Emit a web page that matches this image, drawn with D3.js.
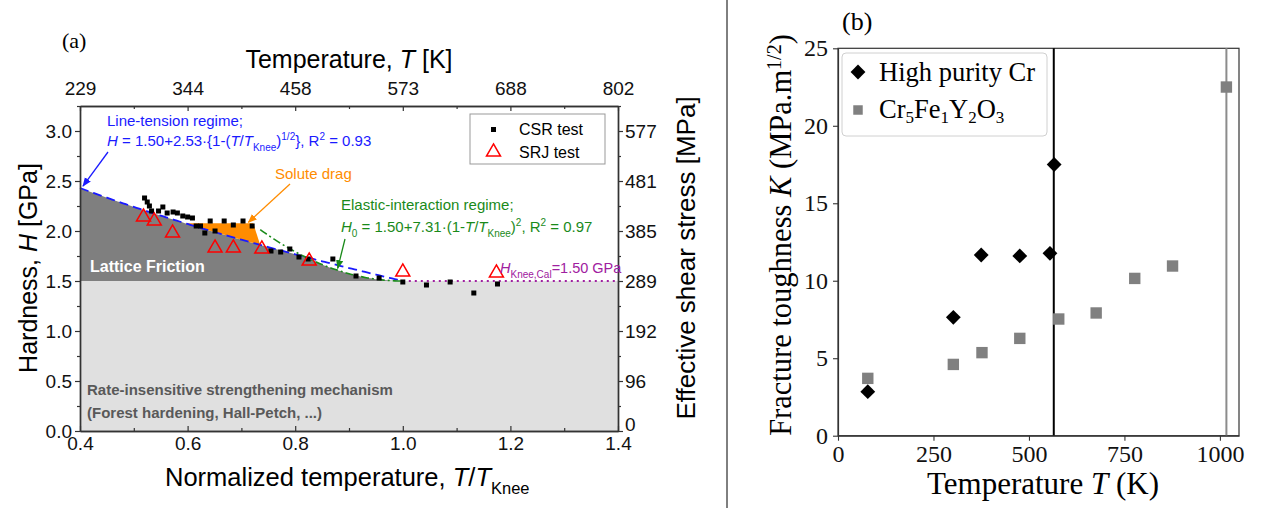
<!DOCTYPE html>
<html>
<head>
<meta charset="utf-8">
<script src="https://cdn.jsdelivr.net/npm/d3@7"></script>
<style>
body { margin: 0; background: #fff; }
svg { display: block; }
.sans { font-family: "Liberation Sans", Arial, sans-serif; }
.serif { font-family: "Liberation Serif", "Times New Roman", serif; }
</style>
</head>
<body>
<svg id="chart" width="1271" height="508"></svg>
<script>
// ---- panel (a) data ----
var normTicks = [0.4, 0.6, 0.8, 1.0, 1.2, 1.4];
var tempLabels = [229, 344, 458, 573, 688, 802];
var hardTicks = [0, 0.5, 1.0, 1.5, 2.0, 2.5, 3.0];
var shearLabels = [0, 96, 192, 289, 385, 481, 577];

var csrX = [0.520, 0.525, 0.529, 0.533, 0.546, 0.554, 0.562, 0.573, 0.581, 0.591, 0.600, 0.609, 0.616, 0.624, 0.632, 0.642, 0.651, 0.668, 0.685, 0.703, 0.720, 0.755, 0.773, 0.790, 0.807, 0.824, 0.870, 0.913, 0.956, 1.000, 1.044, 1.088, 1.132, 1.176];
var csrH = [2.33, 2.29, 2.25, 2.20, 2.20, 2.24, 2.18, 2.19, 2.18, 2.15, 2.14, 2.13, 2.05, 2.05, 1.98, 2.10, 2.00, 2.10, 2.06, 2.10, 2.05, 1.80, 1.79, 1.82, 1.74, 1.72, 1.72, 1.55, 1.53, 1.49, 1.46, 1.49, 1.38, 1.47];
var srjX = [0.518, 0.538, 0.572, 0.651, 0.685, 0.738, 0.826, 1.000, 1.174];
var srjH = [2.15, 2.11, 1.99, 1.84, 1.84, 1.83, 1.71, 1.60, 1.59];

// fit coefficients printed on the chart
var hKnee = 1.50, lineTensionA = 2.53, elasticB = 7.31;
var soluteDragH = 2.077, soluteDragX = [0.596, 0.722, 0.735];

// ---- panel (b) data ----
var tempTicksB = [0, 250, 500, 750, 1000];
var kTicks = [0, 5, 10, 15, 20, 25];
var crT = [78, 302, 375, 476, 555, 566];
var crK = [2.84, 7.64, 11.66, 11.60, 11.77, 17.5];
var cfoT = [78, 302, 377, 476, 578, 676, 777, 876, 1017];
var cfoK = [3.70, 4.60, 5.36, 6.28, 7.53, 7.92, 10.15, 10.95, 22.5];
var crLineT = 565, cfoLineT = 1017;

var svg = d3.select("#chart");

var lineTension = function(t) { return hKnee + lineTensionA * (1 - Math.sqrt(t)); };
var elastic = function(t) { return hKnee + elasticB * (1 - t) * (1 - t); };

// ================= panel (a) =================
var x = d3.scaleLinear().domain([0.4, 1.4]).range([80, 618]);
var y = d3.scaleLinear().domain([0, 3.25]).range([431, 106]);

var gA = svg.append("g").attr("class", "sans");

// light grey region
gA.append("rect")
	.attr("x", x(0.4)).attr("y", y(hKnee))
	.attr("width", x(1.4) - x(0.4)).attr("height", y(0) - y(hKnee))
	.style("fill", "#e0e0e0");

// dark grey lattice friction region
var tGrid = d3.range(0.4, 1.0001, 0.005);
var area = d3.area()
	.x(function(d) { return x(d); })
	.y0(y(hKnee))
	.y1(function(d) { return y(Math.min(lineTension(d), elastic(d))); });
gA.append("path").datum(tGrid).attr("d", area).attr("fill", "#7f7f7f");

// solute drag polygon
var sdPts = [[soluteDragX[0], lineTension(soluteDragX[0])], [soluteDragX[0], soluteDragH], [soluteDragX[1], soluteDragH], [soluteDragX[2], lineTension(soluteDragX[2])]];
var back = d3.range(soluteDragX[2], soluteDragX[0], -0.005).map(function(t) { return [t, lineTension(t)]; });
gA.append("path")
	.attr("d", d3.line().x(function(d) { return x(d[0]); }).y(function(d) { return y(d[1]); })(sdPts.concat(back)) + "Z")
	.attr("fill", "#ff8c00");

// fit lines
gA.append("path").datum(d3.range(0.4, 1.0001, 0.005))
	.attr("d", d3.line().x(function(d) { return x(d); }).y(function(d) { return y(lineTension(d)); }))
	.attr("fill", "none").style("stroke", "#1a1aff").style("stroke-width", 1.8).style("stroke-dasharray", "9,5");
gA.append("path").datum(d3.range(0.735, 1.0001, 0.005))
	.attr("d", d3.line().x(function(d) { return x(d); }).y(function(d) { return y(elastic(d)); }))
	.attr("fill", "none").style("stroke", "#1a8a1a").style("stroke-width", 1.6).style("stroke-dasharray", "8,3,2,3");
gA.append("line")
	.attr("x1", x(1.0)).attr("x2", x(1.4)).attr("y1", y(hKnee)).attr("y2", y(hKnee))
	.style("stroke", "#a020a0").style("stroke-width", 1.8).style("stroke-dasharray", "2,4");

// CSR squares
gA.selectAll(".csr").data(csrX).enter().append("rect")
	.attr("x", function(d) { return x(d) - 2.5; })
	.attr("y", function(d, i) { return y(csrH[i]) - 2.5; })
	.attr("width", 5).attr("height", 5).attr("fill", "#000");

// SRJ triangles
var tri = d3.symbol().type(d3.symbolTriangle).size(85);
gA.selectAll(".srj").data(srjX).enter().append("path")
	.attr("d", tri)
	.attr("transform", function(d, i) { return "translate(" + x(d) + "," + (y(srjH[i]) + 1) + ")"; })
	.attr("fill", "none").style("stroke", "#ff0000").style("stroke-width", 1.5);

// axes
var fmt1 = d3.format(".1f");
var minorX = [0.5, 0.7, 0.9, 1.1, 1.3];
var minorY = [0.25, 0.75, 1.25, 1.75, 2.25, 2.75, 3.25];
var axB = gA.append("g").attr("transform", "translate(0," + y(0) + ")")
	.call(d3.axisBottom(x).tickValues(normTicks).tickFormat(fmt1).tickSize(-5).tickSizeOuter(0).tickPadding(6));
var axBm = gA.append("g").attr("transform", "translate(0," + y(0) + ")")
	.call(d3.axisBottom(x).tickValues(minorX).tickFormat("").tickSize(-3).tickSizeOuter(0));
var axT = gA.append("g").attr("transform", "translate(0," + y(3.25) + ")")
	.call(d3.axisTop(x).tickValues(normTicks).tickFormat(function(d, i) { return tempLabels[i]; }).tickSize(-5).tickSizeOuter(0).tickPadding(11));
var axTm = gA.append("g").attr("transform", "translate(0," + y(3.25) + ")")
	.call(d3.axisTop(x).tickValues(minorX).tickFormat("").tickSize(-3).tickSizeOuter(0));
var axL = gA.append("g").attr("transform", "translate(" + x(0.4) + ",0)")
	.call(d3.axisLeft(y).tickValues(hardTicks).tickFormat(fmt1).tickSize(5).tickSizeOuter(0).tickPadding(3));
var axLm = gA.append("g").attr("transform", "translate(" + x(0.4) + ",0)")
	.call(d3.axisLeft(y).tickValues(minorY).tickFormat("").tickSize(3).tickSizeOuter(0));
var axR = gA.append("g").attr("transform", "translate(" + x(1.4) + ",0)")
	.call(d3.axisRight(y).tickValues(hardTicks).tickFormat(function(d, i) { return shearLabels[i]; }).tickSize(5).tickSizeOuter(0).tickPadding(2));
var axRm = gA.append("g").attr("transform", "translate(" + x(1.4) + ",0)")
	.call(d3.axisRight(y).tickValues(minorY).tickFormat("").tickSize(3).tickSizeOuter(0));
[axB, axBm, axT, axTm, axL, axLm, axR, axRm].forEach(function(a) {
	a.selectAll("path.domain").style("stroke", "#333").style("stroke-width", 1.4);
	a.selectAll("line").style("stroke", "#333").style("stroke-width", 1.2);
	a.selectAll("text").style("font-family", "Liberation Sans, Arial, sans-serif").style("font-size", "19px").style("fill", "#111");
});
// the "0" of the right axis sits just above the "1.4" label, as in the original
axR.selectAll("text").filter(function(d) { return d === 0; }).attr("dy", "-0.05em");

// legend (a)
gA.append("rect").attr("x", 470).attr("y", 114).attr("width", 135).attr("height", 50)
	.attr("fill", "#fff").style("stroke", "#999").style("stroke-width", 1);
gA.append("rect").attr("x", 491).attr("y", 127).attr("width", 5).attr("height", 5).attr("fill", "#000");
gA.append("path").attr("d", tri).attr("transform", "translate(493.5,152)")
	.attr("fill", "none").style("stroke", "#ff0000").style("stroke-width", 1.5);
gA.append("text").attr("x", 519).attr("y", 135).text("CSR test").style("font-size", "16px");
gA.append("text").attr("x", 519).attr("y", 158).text("SRJ test").style("font-size", "16px");

// axis titles (a)
gA.append("text").attr("transform", "translate(37,268) rotate(-90)").attr("text-anchor", "middle")
	.style("font-size", "25px")
	.html('Hardness, <tspan font-style="italic">H</tspan> [GPa]');
gA.append("text").attr("transform", "translate(695,258) rotate(-90)").attr("text-anchor", "middle")
	.style("font-size", "26px").text("Effective shear stress [MPa]");
gA.append("text").attr("x", 349).attr("y", 68).attr("text-anchor", "middle").style("font-size", "25px")
	.html('Temperature, <tspan font-style="italic">T</tspan> [K]');
gA.append("text").attr("x", 165).attr("y", 486).style("font-size", "25.5px")
	.html('Normalized temperature, <tspan font-style="italic">T</tspan>/<tspan font-style="italic">T</tspan><tspan dy="8" font-size="16.5px">Knee</tspan>');
svg.append("text").attr("class", "serif").attr("x", 62).attr("y", 48).style("font-size", "22px").text("(a)");

// region labels
gA.append("text").attr("x", 90).attr("y", 272).style("font-size", "16px").style("font-weight", "bold")
	.attr("fill", "#fff").text("Lattice Friction");
gA.append("text").attr("x", 87).attr("y", 395).style("font-size", "15px").style("font-weight", "bold")
	.attr("fill", "#595959").text("Rate-insensitive strengthening mechanism");
gA.append("text").attr("x", 87).attr("y", 418).style("font-size", "15px").style("font-weight", "bold")
	.attr("fill", "#595959").text("(Forest hardening, Hall-Petch, ...)");

// annotations
var defs = svg.append("defs");
function arrowHead(id, color) {
	defs.append("marker").attr("id", id).attr("viewBox", "0 0 10 10").attr("refX", 9).attr("refY", 5)
		.attr("markerWidth", 7).attr("markerHeight", 7).attr("orient", "auto")
		.append("path").attr("d", "M0,1 L10,5 L0,9 Z").attr("fill", color);
}
arrowHead("arB", "#1a1aff");
arrowHead("arO", "#ff8c00");
arrowHead("arG", "#1a8a1a");

gA.append("text").attr("x", 107).attr("y", 126).style("font-size", "15px").attr("fill", "#1a1aff").text("Line-tension regime;");
gA.append("text").attr("x", 107).attr("y", 146).style("font-size", "15px").attr("fill", "#1a1aff")
	.html('<tspan font-style="italic">H</tspan> = 1.50+2.53·{1-(<tspan font-style="italic">T</tspan>/<tspan font-style="italic">T</tspan><tspan dy="5" font-size="10px">Knee</tspan><tspan dy="-5">)</tspan><tspan dy="-6" font-size="10px">1/2</tspan><tspan dy="6">}, R</tspan><tspan dy="-6" font-size="10px">2</tspan><tspan dy="6"> = 0.93</tspan>');
gA.append("line").attr("x1", 108).attr("y1", 152).attr("x2", x(0.4) + 3).attr("y2", y(lineTension(0.4)) - 2)
	.style("stroke", "#1a1aff").style("stroke-width", 1.3).attr("marker-end", "url(#arB)");

gA.append("text").attr("x", 275).attr("y", 179).style("font-size", "15px").attr("fill", "#ff8c00").text("Solute drag");
gA.append("line").attr("x1", 290).attr("y1", 184).attr("x2", x(0.713)).attr("y2", y(soluteDragH) - 1)
	.style("stroke", "#ff8c00").style("stroke-width", 1.3).attr("marker-end", "url(#arO)");

gA.append("text").attr("x", 341).attr("y", 210).style("font-size", "15px").attr("fill", "#1a8a1a").text("Elastic-interaction regime;");
gA.append("text").attr("x", 341).attr("y", 232).style("font-size", "15px").attr("fill", "#1a8a1a")
	.html('<tspan font-style="italic">H</tspan><tspan dy="5" font-size="10px">0</tspan><tspan dy="-5"> = 1.50+7.31·(1-</tspan><tspan font-style="italic">T</tspan>/<tspan font-style="italic">T</tspan><tspan dy="5" font-size="10px">Knee</tspan><tspan dy="-5">)</tspan><tspan dy="-6" font-size="10px">2</tspan><tspan dy="6">, R</tspan><tspan dy="-6" font-size="10px">2</tspan><tspan dy="6"> = 0.97</tspan>');
gA.append("line").attr("x1", 345).attr("y1", 239).attr("x2", x(0.879)).attr("y2", y(elastic(0.879)) - 2)
	.style("stroke", "#1a8a1a").style("stroke-width", 1.3).attr("marker-end", "url(#arG)");

gA.append("text").attr("x", 500).attr("y", 273).style("font-size", "14.5px").attr("fill", "#a020a0")
	.html('<tspan font-style="italic">H</tspan><tspan dy="5" font-size="10px">Knee,Cal</tspan><tspan dy="-5">=1.50 GPa</tspan>');

// divider
svg.append("line").attr("x1", 727).attr("x2", 727).attr("y1", 0).attr("y2", 508).style("stroke", "#000").style("stroke-width", 1);

// ================= panel (b) =================
var xb = d3.scaleLinear().domain([0, 1050]).range([838, 1239]);
var yb = d3.scaleLinear().domain([0, 25]).range([435.7, 48.3]);
var gB = svg.append("g").attr("class", "serif");

gB.append("rect").attr("x", xb(0)).attr("y", yb(25)).attr("width", xb(1050) - xb(0)).attr("height", yb(0) - yb(25))
	.attr("fill", "none").style("stroke", "#333").style("stroke-width", 1.2);

gB.append("line").attr("x1", xb(crLineT)).attr("x2", xb(crLineT)).attr("y1", yb(0)).attr("y2", yb(25))
	.style("stroke", "#000").style("stroke-width", 2);
gB.append("line").attr("x1", xb(cfoLineT)).attr("x2", xb(cfoLineT)).attr("y1", yb(0)).attr("y2", yb(25))
	.style("stroke", "#8c8c8c").style("stroke-width", 2);

var axXb = gB.append("g").attr("transform", "translate(0," + yb(0) + ")")
	.call(d3.axisBottom(xb).tickValues(tempTicksB).tickFormat(d3.format("d")).tickSize(5).tickSizeOuter(0).tickPadding(4));
var axYb = gB.append("g").attr("transform", "translate(" + xb(0) + ",0)")
	.call(d3.axisLeft(yb).tickValues(kTicks).tickFormat(d3.format("d")).tickSize(5).tickSizeOuter(0).tickPadding(5));
[axXb, axYb].forEach(function(a) {
	a.selectAll("path.domain").style("stroke", "#333").style("stroke-width", 1.2);
	a.selectAll("line").style("stroke", "#333").style("stroke-width", 1.1);
	a.selectAll("text").style("font-family", "Liberation Serif, serif").style("font-size", "24px").style("fill", "#111");
});

var sq = d3.symbol().type(d3.symbolSquare).size(130);
var dia = d3.symbol().type(d3.symbolDiamond2).size(140);
gB.selectAll(".cfo").data(cfoT).enter().append("path")
	.attr("d", sq)
	.attr("transform", function(d, i) { return "translate(" + xb(d) + "," + yb(cfoK[i]) + ")"; })
	.attr("fill", "#808080");
gB.selectAll(".cr").data(crT).enter().append("path")
	.attr("d", dia)
	.attr("transform", function(d, i) { return "translate(" + xb(d) + "," + yb(crK[i]) + ")"; })
	.attr("fill", "#000");

// legend (b)
gB.append("rect").attr("x", 842).attr("y", 53).attr("width", 205).attr("height", 83).attr("rx", 4)
	.attr("fill", "#fff").style("fill-opacity", 0.85).style("stroke", "#d0d0d0").style("stroke-width", 1);
gB.append("path").attr("d", dia).attr("transform", "translate(858,72)").attr("fill", "#000");
gB.append("path").attr("d", d3.symbol().type(d3.symbolSquare).size(90)).attr("transform", "translate(858,110)").attr("fill", "#808080");
gB.append("text").attr("x", 879).attr("y", 81).style("font-size", "26.5px").text("High purity Cr");
gB.append("text").attr("x", 879).attr("y", 118).style("font-size", "26.5px")
	.html('Cr<tspan dy="5" font-size="17px">5</tspan><tspan dy="-5">Fe</tspan><tspan dy="5" font-size="17px">1</tspan><tspan dy="-5">Y</tspan><tspan dy="5" font-size="17px">2</tspan><tspan dy="-5">O</tspan><tspan dy="5" font-size="17px">3</tspan>');

gB.append("text").attr("x", 842).attr("y", 30).style("font-size", "26px").text("(b)");
gB.append("text").attr("x", 1043).attr("y", 494).attr("text-anchor", "middle").style("font-size", "31px")
	.html('Temperature <tspan font-style="italic">T</tspan> (K)');
gB.append("text").attr("transform", "translate(791,235) rotate(-90)").attr("text-anchor", "middle")
	.style("font-size", "30.5px")
	.html('Fracture toughness <tspan font-style="italic">K</tspan> (MPa.m<tspan dy="-10" font-size="20px">1/2</tspan><tspan dy="10">)</tspan>');
</script>
</body>
</html>
